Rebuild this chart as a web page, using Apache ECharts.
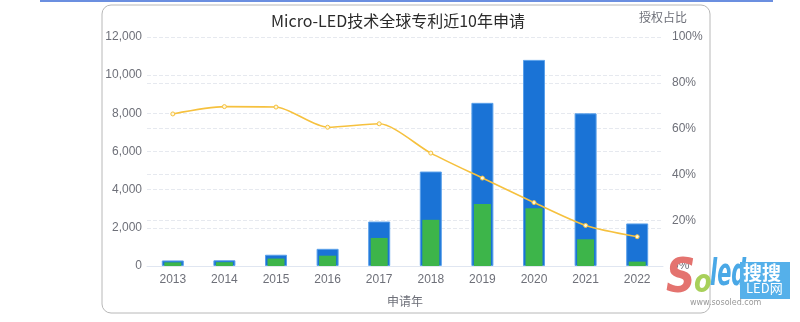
<!DOCTYPE html>
<html><head><meta charset="utf-8">
<script src="https://cdn.jsdelivr.net/npm/echarts@6/dist/echarts.min.js"></script>
<style>html,body{margin:0;padding:0;background:#fff;}#c{width:800px;height:322px;}</style>
</head><body><div id="c"></div>
<script>
const years = ['2013','2014','2015','2016','2017','2018','2019','2020','2021','2022'];
const applications = [290, 300, 590, 900, 2330, 4950, 8550, 10800, 8000, 2230];
const granted = [190, 200, 390, 540, 1470, 2420, 3250, 3030, 1400, 230];
const grantRatio = [66.4, 69.6, 69.4, 60.6, 62.1, 49.3, 38.4, 27.7, 17.7, 12.8];
const leftTicks = {min: 0, max: 12000, interval: 2000};
const rightTicks = {min: 0, max: 100, interval: 20};

const chart = echarts.init(document.getElementById('c'));
const cjk = '"Noto Sans CJK SC", sans-serif';
const num = '"Liberation Sans", "Noto Sans CJK SC", sans-serif';
chart.setOption({
  backgroundColor: '#fff',
  animation: false,
  textStyle: {fontFamily: num},
  title: {text: 'Micro-LED技术全球专利近10年申请', left: 393, textAlign: 'center', top: 8,
    textStyle: {fontSize: 16, fontWeight: 'normal', color: '#2b2b2b', fontFamily: cjk}},
  grid: {left: 147, right: 137, top: 37, bottom: 56},
  graphic: [
    {type: 'rect', shape: {x: 40, y: 0, width: 733, height: 2}, style: {fill: '#6b8fe0'}, z: 100},
    {type: 'rect', shape: {x: 102, y: 5, width: 608, height: 308, r: 9}, style: {fill: 'none', stroke: '#b8b8b8', lineWidth: 1}, z: -1},
    {type: 'text', x: 666, y: 256, scaleX: 0.85, style: {text: 'S', font: 'italic bold 48px "DejaVu Sans"', fill: '#e4736f'}, z: 100},
    {type: 'text', x: 694, y: 268, scaleX: 0.8, style: {text: 'o', font: 'italic bold 32px "DejaVu Sans"', fill: '#a8d05a'}, z: 100},
    {type: 'text', x: 710, y: 256, scaleX: 0.55, style: {text: 'led', font: 'italic bold 38px "DejaVu Sans"', fill: '#4aa8e6'}, z: 100},
    {type: 'rect', shape: {x: 740, y: 262, width: 50, height: 37}, style: {fill: '#55b0ea'}, z: 100},
    {type: 'text', left: 743, top: 263, style: {text: '搜搜', font: 'bold 19px "Noto Sans CJK SC"', fill: '#fff'}, z: 101},
    {type: 'text', left: 746, top: 282, style: {text: 'LED网', font: '13px "Noto Sans CJK SC"', fill: '#fff'}, z: 101},
    {type: 'text', left: 690, top: 299, style: {text: 'www.sosoled.com', font: '8px "DejaVu Sans"', fill: '#999'}, z: 100}
  ],
  xAxis: [{
    type: 'category', data: years,
    name: '申请年', nameLocation: 'middle', nameGap: 29,
    nameTextStyle: {color: '#6e7079', fontSize: 12, fontFamily: cjk},
    axisTick: {show: false},
    axisLine: {lineStyle: {color: '#e0e6f1'}},
    axisLabel: {color: '#6e7079', fontSize: 12, margin: 8}
  }, {
    type: 'category', data: years, show: false
  }],
  yAxis: [
    {type: 'value', min: leftTicks.min, max: leftTicks.max, interval: leftTicks.interval,
      axisLabel: {color: '#6e7079', fontSize: 12, formatter: v => v.toLocaleString('en-US'), margin: 5},
      splitLine: {lineStyle: {type: 'dashed', color: '#e6e9ef'}},
      axisLine: {show: false}, axisTick: {show: false}},
    {type: 'value', min: rightTicks.min, max: rightTicks.max, interval: rightTicks.interval,
      name: '授权占比', nameGap: 14, nameTextStyle: {color: '#6e7079', fontSize: 12, align: 'center', fontFamily: cjk},
      axisLabel: {color: '#6e7079', fontSize: 12, formatter: '{value}%', margin: 9},
      splitLine: {lineStyle: {type: 'dashed', color: '#e6e9ef'}},
      axisLine: {show: false}, axisTick: {show: false}}
  ],
  series: [
    {name: '申请量', type: 'bar', data: applications, barWidth: 22, xAxisIndex: 0,
      itemStyle: {color: '#1a73d6', borderColor: '#5aa0ea', borderWidth: 1}},
    {name: '授权量', type: 'bar', data: granted, barWidth: 17, xAxisIndex: 1,
      itemStyle: {color: '#3db54a'}},
    {name: '授权占比', type: 'line', yAxisIndex: 1, data: grantRatio, smooth: 0.25,
      symbol: 'circle', symbolSize: 4,
      lineStyle: {color: '#f6c13e', width: 1.6},
      itemStyle: {color: '#fff8dc', borderColor: '#f6c13e', borderWidth: 1}}
  ]
});
</script></body></html>
